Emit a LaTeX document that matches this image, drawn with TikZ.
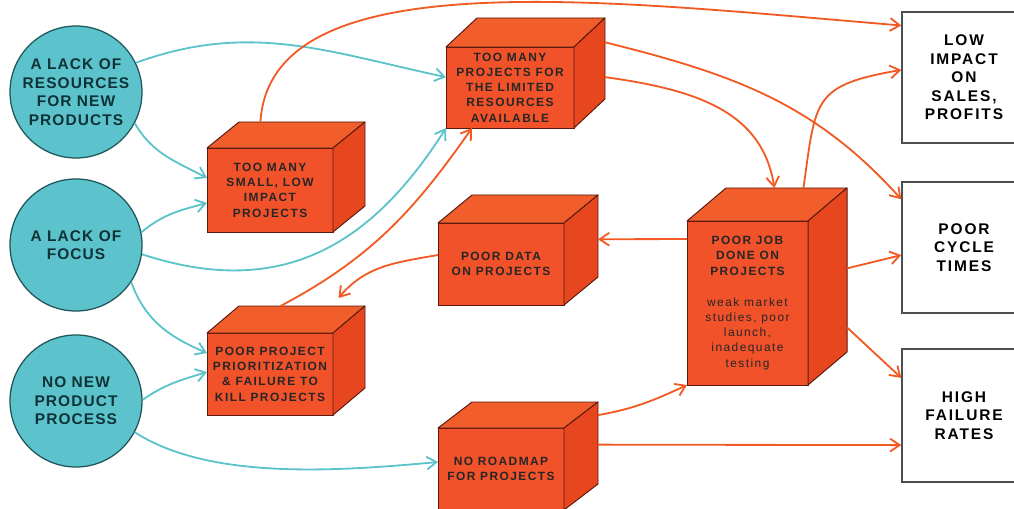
\documentclass[tikz,border=0pt]{standalone}
\usepackage{fontspec}
\setmainfont{Liberation Sans}
\usepackage{xcolor}
\usepackage{tikz}
\usetikzlibrary{arrows.meta}
\usetikzlibrary{calc}
\definecolor{circfill}{HTML}{5CC3CD}
\definecolor{circline}{HTML}{1E5558}
\definecolor{circtext}{HTML}{0E3336}
\definecolor{boxfront}{HTML}{F2522A}
\definecolor{boxtop}{HTML}{F25D2C}
\definecolor{boxside}{HTML}{E8461F}
\definecolor{boxline}{HTML}{5A1C0E}
\definecolor{outline}{HTML}{4A4F52}
\definecolor{tealline}{HTML}{5CC3CB}
\definecolor{orangeline}{HTML}{F25A24}
\tikzset{
  cause/.style={circle, draw=circline, line width=0.9pt, fill=circfill,
    minimum size=33mm, inner sep=0pt, align=center, text=circtext,
    font=\fontsize{11}{13.2}\selectfont\bfseries\addfontfeature{LetterSpace=7}},
  projbox/.style={rectangle, draw=boxline, line width=0.7pt, fill=boxfront,
    outer sep=0pt, inner sep=0pt, align=center, text=black!85,
    font=\fontsize{8.5}{10.9}\selectfont\bfseries\addfontfeature{LetterSpace=12}},
  topface/.style={draw=boxline, line width=0.7pt, fill=boxtop, line join=round},
  sideface/.style={draw=boxline, line width=0.7pt, fill=boxside, line join=round},
  outcome/.style={rectangle, draw=outline, line width=1pt, fill=white,
    minimum width=31mm, inner sep=0pt, align=center, text=black,
    font=\fontsize{11}{13.2}\selectfont\bfseries\addfontfeature{LetterSpace=12}},
  arr/.style={-{Straight Barb[length=2.4mm,width=3.2mm]}},
  tealarr/.style={arr, draw=tealline, line width=1.3pt},
  orangearr/.style={arr, draw=orangeline, line width=1.3pt}
}
% top and side faces behind a front face (name, depth x, depth y)
\newcommand{\cubefaces}[3]{%
  \coordinate (#1-bnw) at ([shift={(#2,#3)}]#1.north west);
  \coordinate (#1-bne) at ([shift={(#2,#3)}]#1.north east);
  \coordinate (#1-bse) at ([shift={(#2,#3)}]#1.south east);
  \filldraw[topface] (#1.north west) -- (#1-bnw) -- (#1-bne) -- (#1.north east) -- cycle;
  \filldraw[sideface] (#1.north east) -- (#1-bne) -- (#1-bse) -- (#1.south east) -- cycle;
}

\begin{document}
\begin{tikzpicture}[x=0.25mm, y=-0.25mm]
		\path[use as bounding box, clip] (0,0) rectangle (1014,509);
		%
		\node[cause] (c1) at (76,92) {A LACK OF\\RESOURCES\\FOR NEW\\PRODUCTS};
		\node[cause] (c2) at (76,245) {A LACK OF\\FOCUS};
		\node[cause] (c3) at (76,401) {NO NEW\\PRODUCT\\PROCESS};
		%
		\node[projbox, minimum width=31.5mm, minimum height=21mm] (b1) at (270,190) {TOO MANY\\SMALL, LOW\\IMPACT\\PROJECTS};
		\cubefaces{b1}{32}{-26}
		\node[projbox, minimum width=32mm, minimum height=20.25mm] (b2) at (510,87.5) {TOO MANY\\PROJECTS FOR\\THE LIMITED\\RESOURCES\\AVAILABLE};
		\cubefaces{b2}{31}{-29}
		\node[projbox, minimum width=31.5mm, minimum height=20.5mm] (b3) at (501,264) {POOR DATA\\ON PROJECTS};
		\cubefaces{b3}{34}{-28}
		\node[projbox, minimum width=31.5mm, minimum height=20.5mm] (b4) at (270,374) {POOR PROJECT\\PRIORITIZATION\\\& FAILURE TO\\KILL PROJECTS};
		\cubefaces{b4}{32}{-27}
		\node[projbox, minimum width=31.5mm, minimum height=20.5mm] (b5) at (501,469) {NO ROADMAP\\FOR PROJECTS};
		\cubefaces{b5}{34}{-26}
		\node[projbox, minimum width=30.25mm, minimum height=41mm] (b6) at (747.5,303) {POOR JOB\\DONE ON\\PROJECTS\\[11pt]{\mdseries weak market}\\{\mdseries studies, poor}\\{\mdseries launch,}\\{\mdseries inadequate}\\{\mdseries testing}};
		\cubefaces{b6}{39}{-33}
		%
		\node[outcome, minimum height=32.75mm] (w1) at (964,77.5) {LOW\\IMPACT\\ON\\SALES,\\PROFITS};
		\node[outcome, minimum height=32.75mm] (w2) at (964,247.5) {POOR\\CYCLE\\TIMES};
		\node[outcome, minimum height=33.25mm] (w3) at (964,415.5) {HIGH\\FAILURE\\RATES};
		%
		\draw[tealarr] (c1.26) to[out=20,in=168] ([yshift=2.6mm]b2.west);
		\draw[tealarr] (c1.-28) to[out=-60,in=152] ([yshift=3mm]b1.west);
		\draw[tealarr] (c2.11) to[out=40,in=195] ([yshift=-3.25mm]b1.west);
		\draw[tealarr] (c2.-8) .. controls +(137,45) and +(-76,120) .. (b2.south west);
		\draw[tealarr] (c2.-34) to[out=-70,in=157] ([yshift=5.25mm]b4.west);
		\draw[tealarr] (c3.1) to[out=35,in=197] ([yshift=0.5mm]b4.west);
		\draw[tealarr] (c3.-28) .. controls +(73,47) and +(-107,10) .. ([yshift=1.75mm]b5.west);
		%
		\draw[orangearr] ($(b1-bnw)!0.17!(b1-bne)$) .. controls +(10,-162) and +(-300,-25) .. ([yshift=13mm]w1.west);
		\draw[orangearr] ($(b4-bnw)!0.33!(b4-bne)$) to[out=28,in=235] ([xshift=6.5mm]b2.south west);
		\draw[orangearr] ([yshift=2.25mm]b3.west) to[out=190,in=50] ($(b4-bnw)!0.79!(b4-bne)+(0,-8)$);
		\draw[orangearr] ([yshift=16mm]b6.west) -- ($(b3-bne)!0.54!(b3-bse)$);
		\draw[orangearr] ($(b2-bne)!0.73!(b2-bse)$) .. controls +(95,13) and +(-12,-75) .. ($(b6-bnw)!0.4!(b6-bne)$);
		\draw[orangearr] ($(b2-bne)!0.3!(b2-bse)$) to[out=-14,in=132] ([yshift=-4.5mm]w2.north west);
		\draw[orangearr] ($(b6-bnw)!0.64!(b6-bne)$) to[out=82,in=190,looseness=1.5] ([yshift=1.9mm]w1.west);
		\draw[orangearr] ($(b6-bne)!0.49!(b6-bse)$) -- ([yshift=-1.9mm]w2.west);
		\draw[orangearr] ($(b6-bne)!0.85!(b6-bse)$) -- ([yshift=9.4mm]w3.west);
		\draw[orangearr] ($(b5-bne)!0.16!(b5-bse)$) to[out=10,in=205] (b6.south west);
		\draw[orangearr] ($(b5-bne)!0.52!(b5-bse)$) -- ([yshift=-7.4mm]w3.west);
\end{tikzpicture}
\end{document}
